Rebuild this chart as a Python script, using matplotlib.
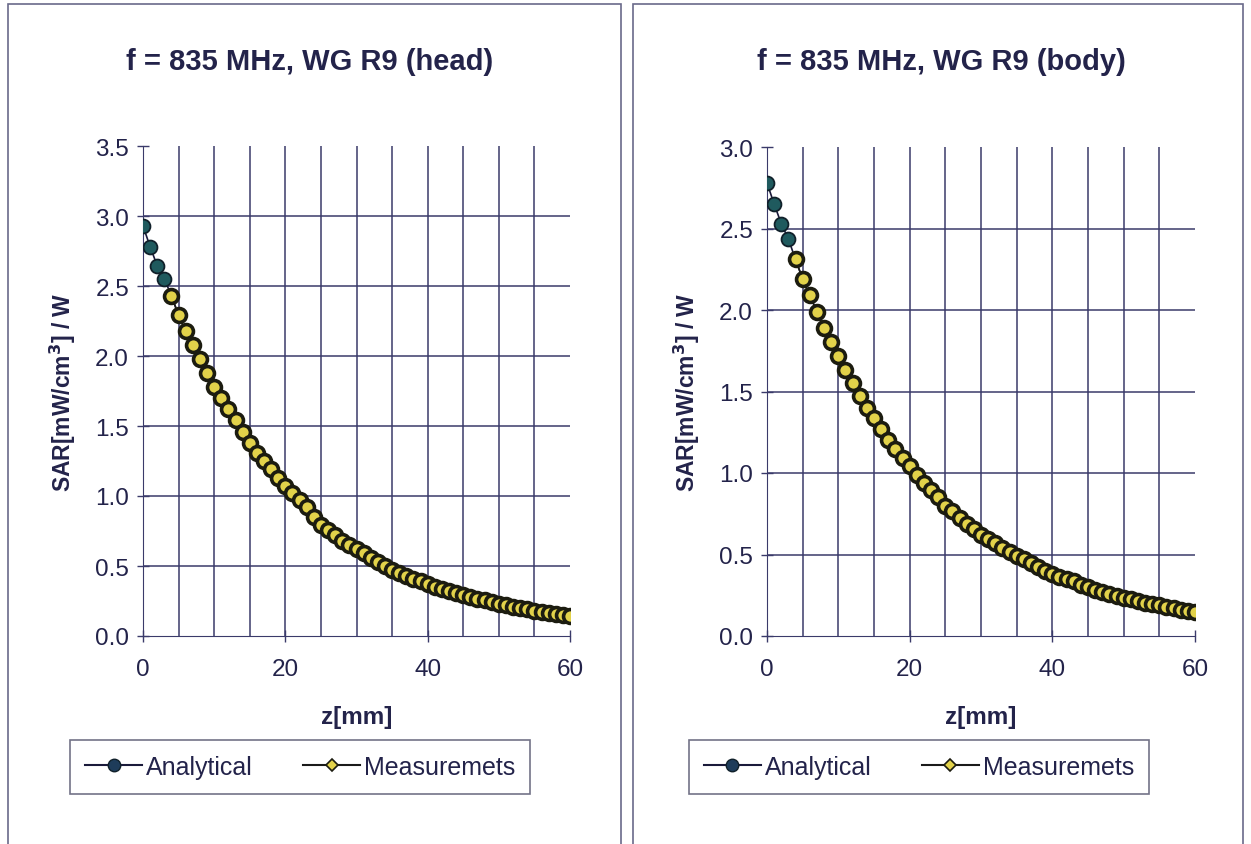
import numpy as np
import matplotlib
matplotlib.use("Agg")
import matplotlib.pyplot as plt
from matplotlib.patches import Rectangle
from matplotlib.lines import Line2D

plt.rcParams['font.family'] = ['Liberation Sans', 'DejaVu Sans']

# z positions [mm]
z = np.arange(0, 61)

# head tissue
head_analytical = [2.93, 2.78, 2.645, 2.55, 2.43, 2.29, 2.18, 2.08, 1.98, 1.88,
                   1.78, 1.70, 1.62, 1.54, 1.46, 1.38, 1.31, 1.25, 1.19, 1.13,
                   1.07, 1.02, 0.97, 0.92, 0.85, 0.79, 0.76, 0.72, 0.68, 0.65,
                   0.62, 0.59, 0.56, 0.53, 0.50, 0.47, 0.45, 0.43, 0.41, 0.39,
                   0.37, 0.35, 0.335, 0.32, 0.305, 0.29, 0.28, 0.265, 0.255, 0.24,
                   0.23, 0.22, 0.21, 0.20, 0.19, 0.18, 0.175, 0.165, 0.16, 0.15,
                   0.145]
head_measured = [2.43, 2.29, 2.18, 2.08, 1.98, 1.88,
                 1.78, 1.70, 1.62, 1.54, 1.46, 1.38, 1.31, 1.25, 1.19, 1.13,
                 1.07, 1.02, 0.97, 0.92, 0.85, 0.79, 0.76, 0.72, 0.68, 0.65,
                 0.62, 0.59, 0.56, 0.53, 0.50, 0.47, 0.45, 0.43, 0.41, 0.39,
                 0.37, 0.35, 0.335, 0.32, 0.305, 0.29, 0.28, 0.265, 0.255, 0.24,
                 0.23, 0.22, 0.21, 0.20, 0.19, 0.18, 0.175, 0.165, 0.16, 0.15,
                 0.145]

# body tissue
body_analytical = [2.78, 2.65, 2.53, 2.435, 2.31, 2.19, 2.09, 1.99, 1.89, 1.805,
                   1.72, 1.634, 1.55, 1.47, 1.40, 1.335, 1.27, 1.20, 1.147, 1.09,
                   1.04, 0.99, 0.94, 0.895, 0.85, 0.80, 0.765, 0.725, 0.69, 0.655,
                   0.62, 0.595, 0.57, 0.54, 0.515, 0.49, 0.47, 0.445, 0.425, 0.40,
                   0.38, 0.365, 0.35, 0.335, 0.315, 0.30, 0.285, 0.27, 0.26, 0.245,
                   0.235, 0.225, 0.215, 0.205, 0.195, 0.19, 0.18, 0.17, 0.16, 0.155,
                   0.145]
body_measured = [2.31, 2.19, 2.09, 1.99, 1.89, 1.805,
                 1.72, 1.634, 1.55, 1.47, 1.40, 1.335, 1.27, 1.20, 1.147, 1.09,
                 1.04, 0.99, 0.94, 0.895, 0.85, 0.80, 0.765, 0.725, 0.69, 0.655,
                 0.62, 0.595, 0.57, 0.54, 0.515, 0.49, 0.47, 0.445, 0.425, 0.40,
                 0.38, 0.365, 0.35, 0.335, 0.315, 0.30, 0.285, 0.27, 0.26, 0.245,
                 0.235, 0.225, 0.215, 0.205, 0.195, 0.19, 0.18, 0.17, 0.16, 0.155,
                 0.145]

titles = ['f = 835 MHz, WG R9 (head)', 'f = 835 MHz, WG R9 (body)']
ymaxes = [3.5, 3.0]

txt = '#23234a'
gridc = '#3a3a6a'
ana_fill = '#1f5a5e'
mea_fill = '#e2d24a'

W, H = 1251, 845
fig = plt.figure(figsize=(W / 100, H / 100), dpi=100)
fig.patch.set_facecolor('white')

# panel frames
frames = [(8, 621), (633, 1243)]
for x0, x1 in frames:
    fig.patches.append(Rectangle((x0 / W, -0.01), (x1 - x0) / W, 1 - 5 / H + 0.01,
                                 transform=fig.transFigure, fill=False,
                                 edgecolor='#6a6a8a', lw=1.2))

axes_px = [(143, 570, 147), (767, 1195, 148)]
title_x = [310, 941]
legend_x = [300, 919]
panels = [(head_analytical, head_measured), (body_analytical, body_measured)]

for i, ((px0, px1, ptop), (ana, mea)) in enumerate(zip(axes_px, panels)):
    ax = fig.add_axes([px0 / W, 1 - 637 / H, (px1 - px0) / W, (637 - ptop) / H])
    ymax = ymaxes[i]
    ax.set_xlim(0, 60)
    ax.set_ylim(0, ymax)
    for v in np.arange(5, 60, 5):
        ax.axvline(v, color=gridc, lw=1.1, zorder=1)
    for v in np.arange(0.5, ymax, 0.5):
        ax.axhline(v, color=gridc, lw=1.1, zorder=1)

    ax.plot(z, ana, '-', color='#1a1a3a', lw=1.2, marker='o', ms=10,
            mfc=ana_fill, mec='#10202a', mew=1.3, zorder=3)
    ax.plot(z[4:], mea, '-', color='#1a1a1a', lw=1.2, marker='o', ms=10,
            mfc=mea_fill, mec='#1c1c10', mew=2.6, zorder=4)

    for s in ['top', 'right']:
        ax.spines[s].set_visible(False)
    ax.spines['left'].set_color(gridc)
    ax.spines['bottom'].set_color(gridc)
    ax.set_xticks([0, 20, 40, 60])
    yt = np.arange(0, ymax + 0.01, 0.5)
    ax.set_yticks(yt)
    ax.set_yticklabels([f'{v:.1f}' for v in yt])
    ax.tick_params(axis='both', colors=gridc, labelcolor=txt, labelsize=17.5,
                   length=8, direction='inout', width=1.0)
    ax.tick_params(axis='x', pad=12)
    ax.tick_params(axis='y', pad=6)
    ax.set_xlabel('z[mm]', fontsize=17.5, fontweight='bold', color=txt, labelpad=18)
    ax.set_ylabel('SAR[mW/cm$^\\mathbf{3}$] / W', fontsize=16.5, fontweight='bold',
                  color=txt, labelpad=12)
    ax.set_facecolor('white')

    fig.text(title_x[i] / W, 1 - 62 / H, titles[i], fontsize=21, fontweight='bold',
             color=txt, ha='center', va='center')

    handles = [Line2D([], [], color='#1a1a3a', lw=1.5, marker='o', ms=9,
                      mfc='#1e3c5a', mec='#10202a'),
               Line2D([], [], color='#1a1a1a', lw=1.5, marker='D', ms=6,
                      mfc=mea_fill, mec='#1c1c10', mew=1.2)]
    leg = fig.legend(handles, ['Analytical', 'Measuremets'], loc='center',
                     bbox_to_anchor=(legend_x[i] / W, 1 - 768 / H), ncol=2,
                     fontsize=18, frameon=True, fancybox=False, handlelength=2.3,
                     columnspacing=2.0, handletextpad=0.15, borderpad=0.6)
    leg.get_frame().set_edgecolor('#50506a')
    leg.get_frame().set_linewidth(1.2)
    for t in leg.get_texts():
        t.set_color(txt)

fig.savefig('out.png', dpi=100)
